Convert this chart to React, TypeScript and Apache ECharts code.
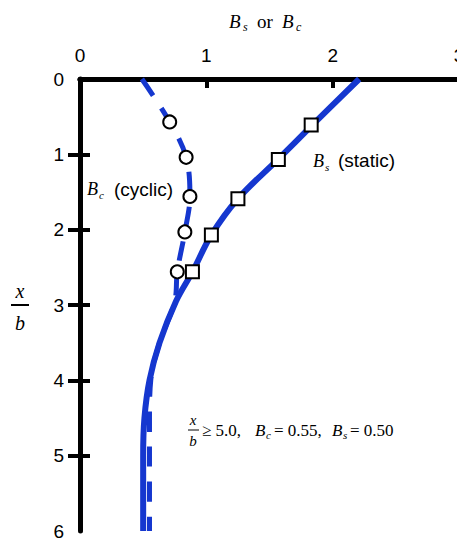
import React, { useEffect, useRef } from "react";
import * as echarts from "echarts";

// Depth ratio x/b (y, inverted) vs coefficient B (x)
const staticCurveX = [2.21, 1.84, 1.565, 1.25, 1.04, 0.89, 0.76, 0.63, 0.55, 0.51, 0.5, 0.5];
const staticCurveY = [0, 0.61, 1.07, 1.59, 2.07, 2.56, 2.95, 3.5, 4.0, 4.5, 5.0, 6.0];
const cyclicCurveX = [0.49, 0.71, 0.84, 0.87, 0.83, 0.77, 0.75, 0.63, 0.56, 0.55, 0.55, 0.55];
const cyclicCurveY = [0, 0.57, 1.04, 1.56, 2.03, 2.56, 2.95, 3.5, 4.0, 4.5, 5.2, 6.0];
const staticPointX = [1.83, 1.57, 1.25, 1.04, 0.89];
const staticPointY = [0.61, 1.07, 1.59, 2.07, 2.56];
const cyclicPointX = [0.71, 0.84, 0.87, 0.83, 0.77];
const cyclicPointY = [0.57, 1.04, 1.56, 2.03, 2.56];
const xTicks = [0, 1, 2, 3];
const yTicks = [0, 1, 2, 3, 4, 5, 6];

const BLUE = "#1537cf";
const SANS = "Liberation Sans, Arial, sans-serif";
const SERIF = "Liberation Serif, Times New Roman, serif";

const zip = (xs: number[], ys: number[]) => xs.map((x, i) => [x, ys[i]]);

const txt = (
  text: string,
  x: number,
  y: number,
  size: number,
  italic = false,
  family = SERIF,
  align = "left"
) => ({
  type: "text",
  x,
  y,
  silent: true,
  style: {
    text,
    fontSize: size,
    fontStyle: italic ? "italic" : "normal",
    fontFamily: family,
    fill: "#000",
    align,
    verticalAlign: "middle",
  },
});

export default function App() {
  const ref = useRef<HTMLDivElement>(null);
  useEffect(() => {
    if (!ref.current) return;
    const chart = echarts.init(ref.current, undefined, { renderer: "svg" });
    const axisLine = { show: true, lineStyle: { color: "#000", width: 5 } };
    chart.setOption({
      animation: false,
      backgroundColor: "#fff",
      grid: {
        left: 80,
        top: 79,
        right: -2,
        bottom: 7,
        containLabel: false,
        outerBoundsMode: "none",
      },
      xAxis: [
        {
          type: "value",
          position: "top",
          min: 0,
          max: 3,
          interval: 1,
          axisLine,
          splitLine: { show: false },
          axisTick: {
            show: true,
            inside: true,
            length: 9,
            lineStyle: { color: "#000", width: 4 },
            customValues: [1, 2],
          },
          axisLabel: {
            show: true,
            margin: 14,
            fontSize: 19,
            fontFamily: SANS,
            color: "#000",
            customValues: xTicks,
          },
        },
        {
          type: "value",
          position: "bottom",
          min: 0,
          max: 3,
          interval: 1,
          axisLine,
          splitLine: { show: false },
          axisTick: { show: false },
          axisLabel: { show: false },
        },
      ],
      yAxis: [
        {
          type: "value",
          inverse: true,
          position: "left",
          min: 0,
          max: 6,
          interval: 1,
          axisLine,
          splitLine: { show: false },
          axisTick: {
            show: true,
            inside: true,
            length: 10,
            lineStyle: { color: "#000", width: 4 },
            customValues: [1, 2, 3, 4, 5],
          },
          axisLabel: {
            show: true,
            margin: 16,
            fontSize: 19,
            fontFamily: SANS,
            color: "#000",
            customValues: yTicks,
          },
        },
        {
          type: "value",
          inverse: true,
          position: "right",
          min: 0,
          max: 6,
          interval: 1,
          axisLine: { show: false },
          splitLine: { show: false },
          axisTick: {
            show: true,
            inside: true,
            length: 12,
            lineStyle: { color: "#000", width: 4 },
            customValues: [1, 2, 3, 4, 5],
          },
          axisLabel: { show: false },
        },
      ],
      series: [
        {
          name: "Bc curve",
          type: "line",
          data: zip(cyclicCurveX, cyclicCurveY),
          smooth: 0.35,
          showSymbol: false,
          symbol: "none",
          lineStyle: { color: BLUE, width: 5, type: [20, 15] },
          z: 2,
        },
        {
          name: "Bs curve",
          type: "line",
          data: zip(staticCurveX, staticCurveY),
          smooth: 0.35,
          showSymbol: false,
          symbol: "none",
          lineStyle: { color: BLUE, width: 6 },
          z: 3,
        },
        {
          name: "Bc points",
          type: "scatter",
          data: zip(cyclicPointX, cyclicPointY),
          symbol: "circle",
          symbolSize: 13,
          itemStyle: { color: "#fff", borderColor: "#000", borderWidth: 2, opacity: 1 },
          z: 5,
        },
        {
          name: "Bs points",
          type: "scatter",
          data: zip(staticPointX, staticPointY),
          symbol: "rect",
          symbolSize: 13,
          itemStyle: { color: "#fff", borderColor: "#000", borderWidth: 2, opacity: 1 },
          z: 5,
        },
      ],
      graphic: [
        // top axis title: B_s or B_c
        txt("B", 229, 21, 19, true),
        txt("s", 243, 27, 12, true),
        txt("or", 257, 21, 19),
        txt("B", 282, 21, 19, true),
        txt("c", 296, 27, 12, true),
        // left axis title: x / b
        txt("x", 20, 291, 20, true, SERIF, "center"),
        {
          type: "line",
          silent: true,
          shape: { x1: 11, y1: 305, x2: 29, y2: 305 },
          style: { stroke: "#000", lineWidth: 2 },
        },
        txt("b", 20, 323, 20, true, SERIF, "center"),
        // B_c (cyclic)
        txt("B", 87, 189, 18, true),
        txt("c", 99, 195, 11, true),
        txt("(cyclic)", 114, 189, 19, false, SANS),
        // B_s (static)
        txt("B", 313, 161, 18, true),
        txt("s", 325, 167, 11, true),
        txt("(static)", 338, 160, 19, false, SANS),
        // bottom annotation
        txt("x", 193, 420, 15, true, SERIF, "center"),
        {
          type: "line",
          silent: true,
          shape: { x1: 188, y1: 430, x2: 199, y2: 430 },
          style: { stroke: "#000", lineWidth: 1 },
        },
        txt("b", 193, 441, 15, true, SERIF, "center"),
        txt("\u2265 5.0,", 202, 430, 17),
        txt("B", 255, 430, 17, true),
        txt("c", 266, 435, 11, true),
        txt("= 0.55,", 274, 430, 17),
        txt("B", 332, 430, 17, true),
        txt("s", 343, 435, 11, true),
        txt("= 0.50", 350, 430, 17),
      ],
    });
    return () => chart.dispose();
  }, []);
  return (
    <div
      ref={ref}
      style={{ position: "fixed", left: 0, top: 0, width: 457, height: 538 }}
    />
  );
}
